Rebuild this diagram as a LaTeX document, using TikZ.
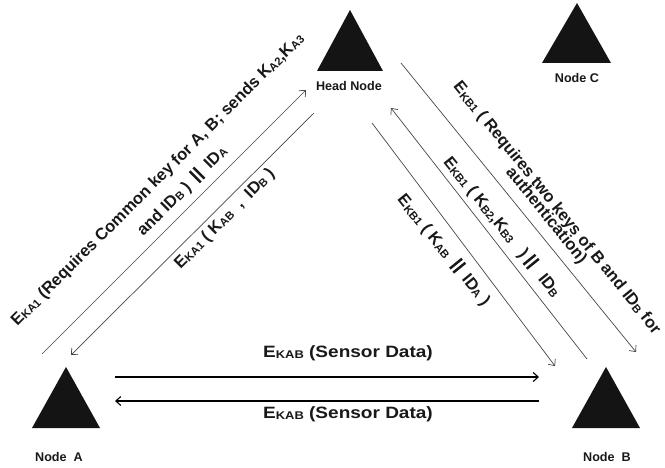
\documentclass[tikz,border=0pt]{standalone}
\usepackage{fontspec}
\setmainfont{Liberation Sans}
\newfontfamily\widefont{Liberation Sans}[FakeStretch=1.16]
\usetikzlibrary{arrows.meta}
% lowered small capitals used as key/identifier indices
\newcommand{\lo}[1]{\raisebox{-0.06em}{\scalebox{0.68}{#1}}}
% heavy concatenation bars
\newcommand{\dbar}{\rule[-0.12em]{0.15em}{0.95em}\hspace{0.17em}\rule[-0.12em]{0.15em}{0.95em}}

\begin{document}
\begin{tikzpicture}[x=1pt,y=-1pt,
  conn/.style={draw=black!72, line width=0.7pt, -{Straight Barb[length=5pt,width=9pt]}},
  hconn/.style={draw=black, line width=1.1pt, -{Straight Barb[length=5pt,width=9pt]}},
  tri/.style={fill=black!92},
  nodelbl/.style={font=\fontsize{12.6}{14}\selectfont\bfseries, text=black!90, inner sep=0},
  msg/.style={font=\fontsize{16.5}{18}\selectfont\bfseries, text=black!90, inner sep=0},
  widemsg/.style={font=\widefont\fontsize{16.4}{18}\selectfont\bfseries, text=black!90, inner sep=0}]

\fill[white] (0,0) rectangle (665,468);
\useasboundingbox (0,0) rectangle (665,468);

% sensor nodes
\fill[tri] (350,10) -- (383,71) -- (317,71) -- cycle;
\fill[tri] (577,3) -- (611,63) -- (542,63) -- cycle;
\fill[tri] (66,367) -- (100,428) -- (32,428) -- cycle;
\fill[tri] (606,367) -- (640,428) -- (572,428) -- cycle;

\node[nodelbl] (headlbl) at (349,86) {Head Node};
\node[nodelbl] (clbl) at (577,78) {Node C};
\node[nodelbl] (albl) at (59,457) {Node\ \ A};
\node[nodelbl] (blbl) at (607,457) {Node\ \ B};

% connector end points
\coordinate (a1s) at (42,354);   \coordinate (a1e) at (306,90);
\coordinate (a2s) at (314,113);  \coordinate (a2e) at (71,355);
\coordinate (b1s) at (372,123);  \coordinate (b1e) at (555,366);
\coordinate (b2s) at (587,359);  \coordinate (b2e) at (391,108);
\coordinate (b3s) at (401,63);   \coordinate (b3e) at (636,352);
\coordinate (h1s) at (115,377);  \coordinate (h1e) at (539,377);
\coordinate (h2s) at (539,401);  \coordinate (h2e) at (115,401);

\draw[conn] (a1s) -- (a1e);
\draw[conn] (a2s) -- (a2e);
\draw[conn] (b1s) -- (b1e);
\draw[conn] (b2s) -- (b2e);
\draw[conn] (b3s) -- (b3e);
\draw[hconn] (h1s) -- (h1e);
\draw[hconn] (h2s) -- (h2e);

% messages between A and the head node
\node[msg, rotate=45] (ma1) at (158,180)
  {E\lo{KA1} (Requires Common key for A, B; sends K\lo{A2},K\lo{A3}};
\node[msg, rotate=45] (ma2) at (182,191)
  {and ID\lo{B} )\ \ \dbar\ \ ID\lo{A}};
\node[msg, rotate=45] (ma3) at (225,219)
  {E\lo{KA1} ( K\lo{AB}\ \ ,\ \ ID\lo{B} )};

% messages between B and the head node
\node[msg, rotate=-51] (mb1) at (444,250)
  {E\lo{KB1} ( K\lo{AB}\ \ \dbar\ \ ID\lo{A} )};
\node[msg, rotate=-51] (mb2) at (502,227)
  {E\lo{KB1} ( K\lo{B2},K\lo{B3}\ \ \ )\ \dbar\ \ \ ID\lo{B}};
\node[msg, rotate=-51, anchor=west] (mb3) at (456,84)
  {E\lo{KB1} ( Requires two keys of B and ID\lo{B} for};
\node[msg, rotate=-51] (mb4) at (546,216)
  {authentication)};

% messages between A and B
\node[widemsg] (sd1) at (348,353) {E\lo{KAB} (Sensor Data)};
\node[widemsg] (sd2) at (348,414) {E\lo{KAB} (Sensor Data)};
\end{tikzpicture}
\end{document}
